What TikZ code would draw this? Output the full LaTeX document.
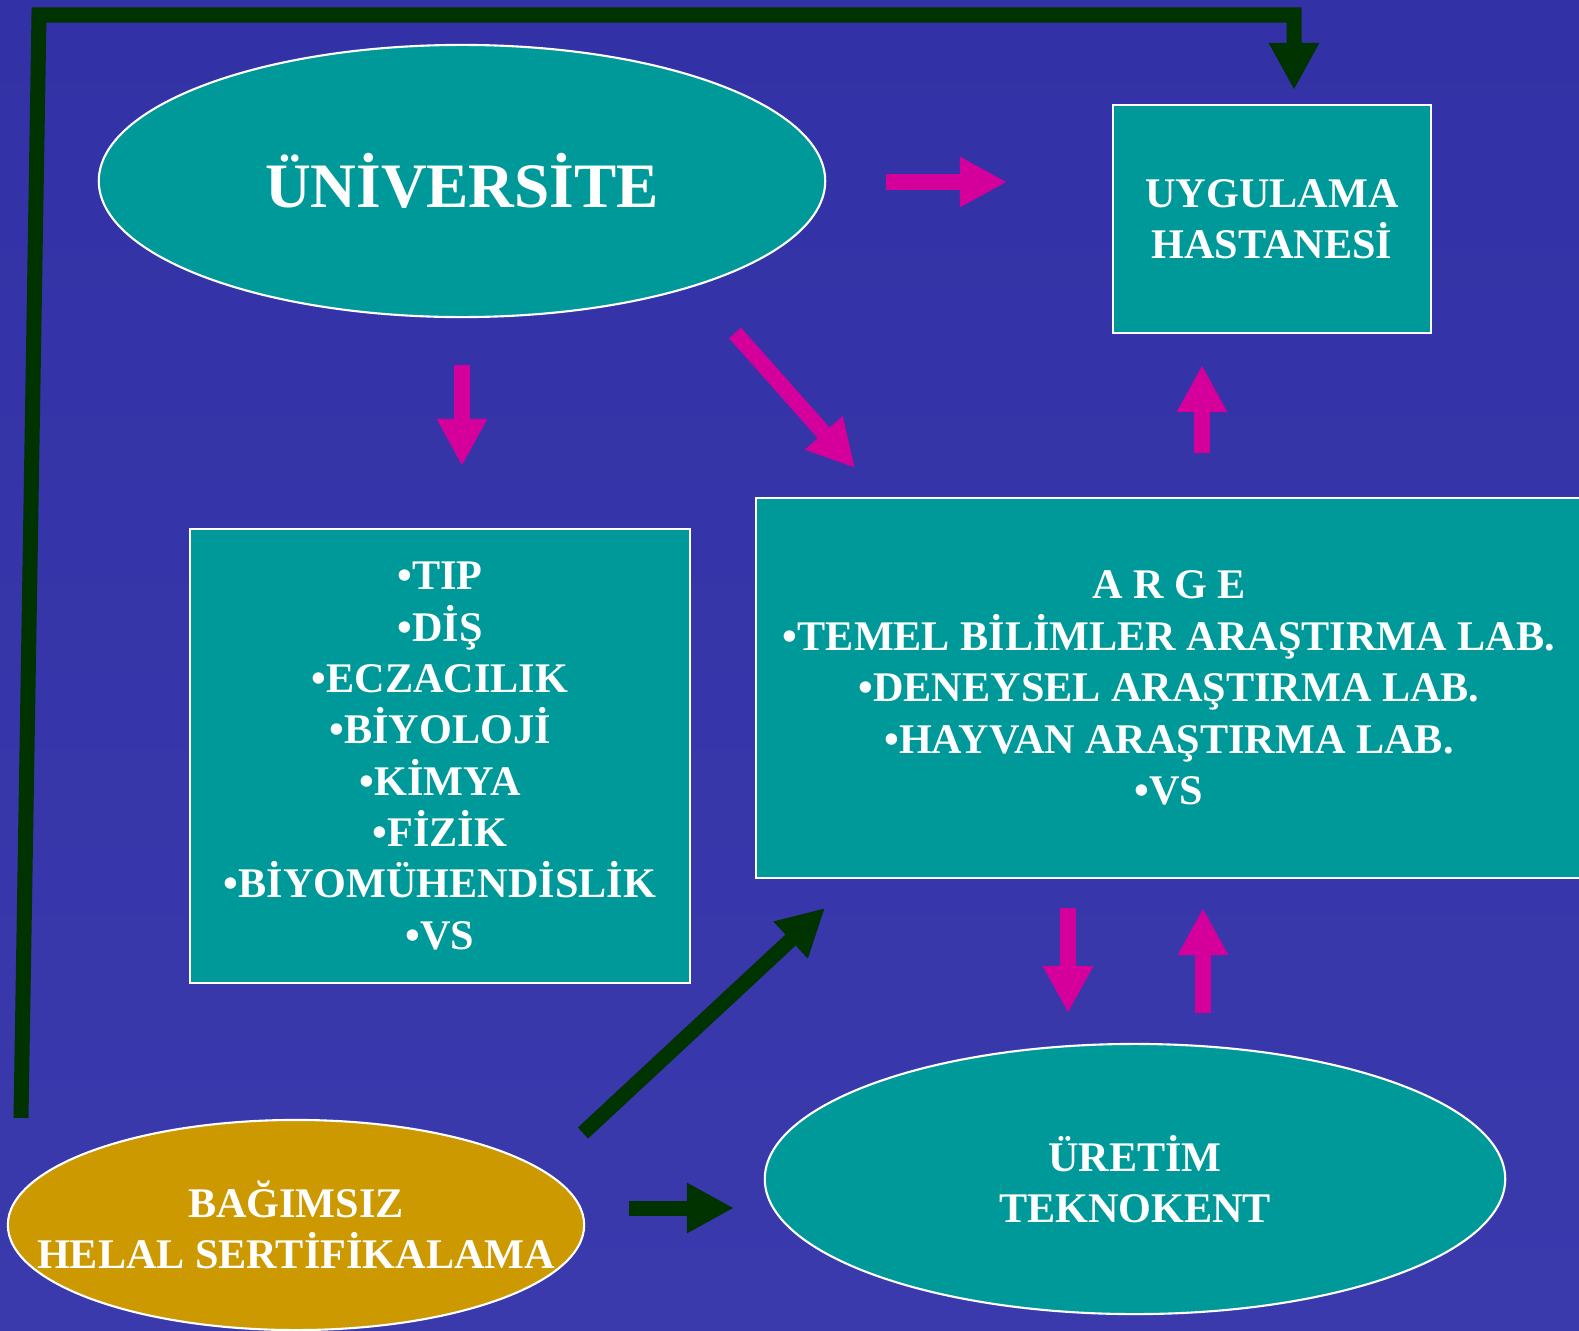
\documentclass[tikz,border=0pt]{standalone}
\usepackage{fontspec}
\setmainfont{Liberation Serif}
\usetikzlibrary{arrows.meta,positioning,shapes.geometric}

\definecolor{bgblue}{HTML}{3A3AAD}
\definecolor{bgtop}{HTML}{3232A6}
\definecolor{tealbox}{HTML}{009999}
\definecolor{pinkarr}{HTML}{D5009B}
\definecolor{darkarr}{HTML}{003300}
\definecolor{goldbox}{HTML}{CC9900}

\tikzset{
  txt/.style={text=white, font=\bfseries\fontsize{12}{14.6}\selectfont, align=center},
  tealrect/.style={txt, rectangle, fill=tealbox, draw=white, line width=0.6pt},
  tealoval/.style={txt, ellipse, fill=tealbox, draw=white, line width=0.6pt},
  pinkarrow/.style={draw=pinkarr, line width=0.16cm, -{Triangle[length=0.47cm,width=0.47cm]}},
  darkarrow/.style={draw=darkarr, line width=0.15cm, line join=miter, -{Triangle[length=0.47cm,width=0.47cm]}},
}

\begin{document}
\begin{tikzpicture}[x=0.01cm, y=-0.01cm]
    \useasboundingbox (0,0) rectangle (1579,1330);
    \clip (0,0) rectangle (1579,1330);
    \shade[top color=bgtop, bottom color=bgblue] (0,0) rectangle (1579,1330);

    % boxes
    \node[tealoval, minimum width=7.26cm, minimum height=2.72cm, font=\bfseries\fontsize{18}{20}\selectfont] (univ) at (462,181) {ÜNİVERSİTE};
    \node[tealrect, minimum width=3.18cm, minimum height=2.27cm] (hastane) at (1272,219) {UYGULAMA\\HASTANESİ};
    \node[tealrect, minimum width=4.99cm, minimum height=4.53cm] (bolum) at (440,756)
        {•TIP\\•DİŞ\\•ECZACILIK\\•BİYOLOJİ\\•KİMYA\\•FİZİK\\•BİYOMÜHENDİSLİK\\•VS};
    \node[tealrect, minimum width=8.25cm, minimum height=3.79cm] (arge) at (1169,688)
        {A R G E\\•TEMEL BİLİMLER ARAŞTIRMA LAB.\\•DENEYSEL ARAŞTIRMA LAB.\\•HAYVAN ARAŞTIRMA LAB.\\•VS};
    \node[tealoval, minimum width=7.40cm, minimum height=2.70cm] (uretim) at (1135,1179) {ÜRETİM\\TEKNOKENT};
    \node[tealoval, fill=goldbox, minimum width=5.76cm, minimum height=2.10cm,
          label={[txt]center:{BAĞIMSIZ\\HELAL SERTİFİKALAMA}}] (helal) at (296,1225) {};

    % arrow ends
    \coordinate (p1s) at (886,182);  \coordinate (p1e) at (1007,182);
    \coordinate (p2s) at (462,365);  \coordinate (p2e) at (462,466);
    \coordinate (p3s) at (735,333);  \coordinate (p3e) at (855,468);
    \coordinate (p4s) at (1202,453); \coordinate (p4e) at (1202,365);
    \coordinate (p5s) at (1068,908); \coordinate (p5e) at (1068,1013);
    \coordinate (p6s) at (1203,1013); \coordinate (p6e) at (1203,908);
    \coordinate (d1s) at (583,1133); \coordinate (d1e) at (825,908);
    \coordinate (d2s) at (629,1208); \coordinate (d2e) at (734,1208);
    \coordinate (loopa) at (21,1118); \coordinate (loopb) at (39,15);
    \coordinate (loopc) at (1294,15); \coordinate (loopd) at (1294,90);

    % pink arrows
    \draw[pinkarrow] (p1s) -- (p1e);
    \draw[pinkarrow] (p2s) -- (p2e);
    \draw[pinkarrow] (p3s) -- (p3e);
    \draw[pinkarrow] (p4s) -- (p4e);
    \draw[pinkarrow] (p5s) -- (p5e);
    \draw[pinkarrow] (p6s) -- (p6e);

    % dark arrows
    \draw[darkarrow] (d1s) -- (d1e);
    \draw[darkarrow] (d2s) -- (d2e);
    \draw[darkarrow] (loopa) -- (loopb) -- (loopc) -- (loopd);
\end{tikzpicture}
\end{document}
